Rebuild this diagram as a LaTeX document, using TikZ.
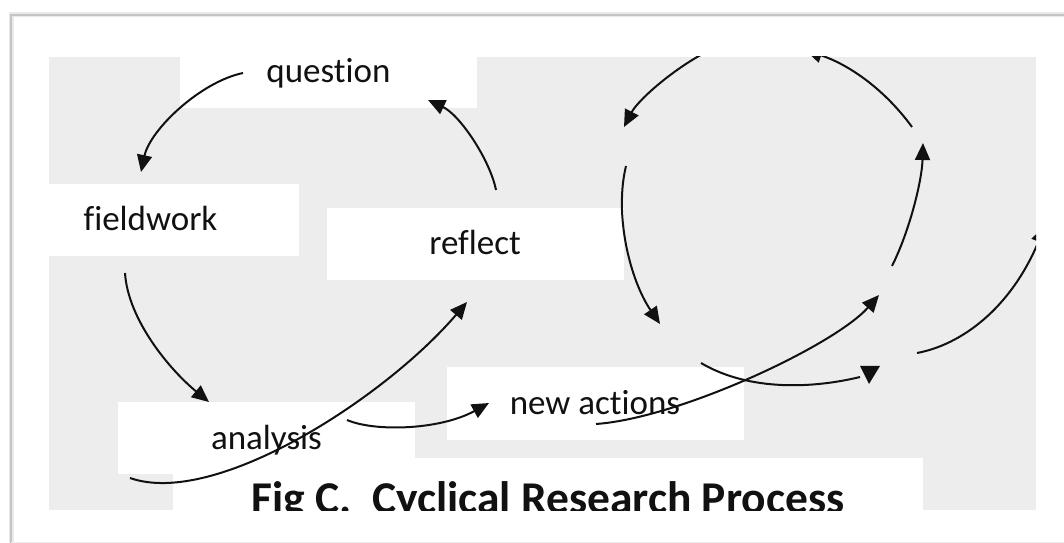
\documentclass[tikz,border=0pt]{standalone}
\usepackage{fontspec}
\setmainfont{Carlito}[Ligatures=NoCommon]
\usetikzlibrary{arrows.meta}
\definecolor{bgray}{HTML}{EDEDED}
\definecolor{framegray}{HTML}{C4C4C4}
\definecolor{ink}{HTML}{111111}
\begin{document}
\begin{tikzpicture}[x=1bp,y=-1bp,
  box/.style={fill=white,draw=none,minimum width=297bp,minimum height=72bp,inner sep=0pt,
    text height=26bp,text depth=4bp,text=ink,font=\fontsize{35bp}{42bp}\selectfont},
  titlebox/.style={box,minimum width=750bp,text height=42bp,text depth=4bp,
    font=\fontsize{45.5bp}{54bp}\selectfont\bfseries},
  conn/.style={line width=2bp,draw=ink,-{Triangle[length=17bp,width=15bp]}},
  arc/.style={line width=2bp,draw=ink}]
\useasboundingbox (0,0) rectangle (1064,543);
\fill[white] (0,0) rectangle (1064,543);
% frame with soft shadow
\draw[framegray!35, line width=5bp] (11,543) -- (11,15) -- (1064,15);
\draw[framegray, line width=1.8bp] (11,543) -- (11,15) -- (1064,15);
\draw[framegray!30, line width=1bp] (11,542) -- (1064,542);
\begin{scope}
\clip (49,57) rectangle (1036,510);
\fill[bgray] (49,57) rectangle (1036,510);
% boxes
\node[box] (question) at (328.5,72) {question};
\node[box] (fieldwork) at (150.5,220) {fieldwork};
\node[box] (reflect) at (475,244) {reflect};
\node[titlebox] (title) at (548,494) {Fig C.\ \ Cyclical Research Process};
\node[box] (analysis) at (266.5,438) {analysis};
\node[box] (newactions) at (595,403.5) {new actions};
% connector end points
\coordinate (q-out) at (243,73);
\coordinate (f-in) at (141,172);
\coordinate (r-out) at (496,190);
\coordinate (q-in) at (428,100);
\coordinate (f-out) at (125,273);
\coordinate (a-in) at (209,402);
\coordinate (a-out1) at (130,478);
\coordinate (r-in) at (467,302);
\coordinate (a-out2) at (347,420);
\coordinate (n-in) at (489,403);
\coordinate (n-out) at (596,424);
\coordinate (n-tip) at (879,295);
% connectors
\draw[conn] (q-out) .. controls (200,82) and (150,130) .. (f-in);
\draw[conn] (r-out) .. controls (490,160) and (460,115) .. (q-in);
\draw[conn] (f-out) .. controls (128,320) and (170,370) .. (a-in);
\draw[conn] (a-out1) .. controls (215,508) and (385,398) .. (r-in);
\draw[conn] (a-out2) .. controls (375,432) and (440,430) .. (n-in);
\draw[conn] (n-out) .. controls (680,418) and (835,345) .. (n-tip);
% right-hand cycle
\coordinate (c1s) at (712,49);   \coordinate (c1e) at (624,127);
\coordinate (c2s) at (626,166);  \coordinate (c2e) at (660,324);
\coordinate (c3s) at (701,363);  \coordinate (c3e) at (860,377);
\coordinate (c4s) at (892,266);  \coordinate (c4e) at (923,143);
\coordinate (c5s) at (912,127);  \coordinate (c5e) at (805,50);
\coordinate (c6s) at (917,353);  \coordinate (c6e) at (1045,226);
\draw[conn] (c1s) .. controls (675,67) and (638,100) .. (c1e);
\draw[conn] (c2s) .. controls (614,215) and (630,280) .. (c2e);
\draw[arc] (c3s) .. controls (750,392) and (815,388) .. (c3e);
\fill[ink] (860,366) -- (880,366) -- (869,384) -- cycle;
\draw[conn] (c4s) .. controls (910,230) and (922,180) .. (c4e);
\draw[conn] (c5s) .. controls (885,90) and (850,65) .. (c5e);
\draw[conn] (c6s) .. controls (960,345) and (1010,310) .. (c6e);
\end{scope}
\end{tikzpicture}
\end{document}
